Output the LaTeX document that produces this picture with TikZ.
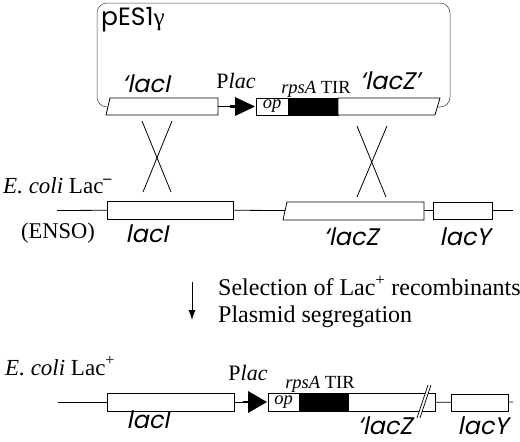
\documentclass[tikz,border=0pt]{standalone}
\usepackage{fontspec}
\setmainfont{Liberation Serif}
\newfontfamily\plasfont{Poppins}
\newfontfamily\genefont[FakeSlant=0.2]{Poppins}
\usetikzlibrary{positioning, arrows.meta}
\tikzset{
    gene/.style={
        draw, fill=white,
        inner sep=0pt, outer sep=0pt,
        line width=0.8pt,
        minimum height=18pt
    },
    tir/.style={gene, fill=black},
    dna/.style={line width=0.8pt},
    plasmid/.style={line width=0.5pt, black!75, rounded corners=10pt},
    cross/.style={line width=0.8pt},
    stem/.style={line width=2.6pt},
    genename/.style={font=\genefont\fontsize{24}{28}\selectfont, anchor=base, inner sep=0pt, text depth=0pt},
    txt/.style={font=\fontsize{22}{26}\selectfont, anchor=base, inner sep=0pt},
    smalltxt/.style={font=\fontsize{18.5}{22}\selectfont, anchor=base, inner sep=0pt},
    steptxt/.style={font=\fontsize{24}{28}\selectfont, anchor=base west, inner sep=0pt},
    line/.style={-{Latex[length=10pt,width=7pt]}, line width=0.8pt}
}

\begin{document}
\begin{tikzpicture}[x=1pt, y=-1pt]
    \useasboundingbox (0,0) rectangle (520,442);

    % Plasmid
    \draw[plasmid] (108,107) -- (97,107) -- (97,3) -- (450,3) -- (450,107) -- (437,107);
    \node[anchor=base west, inner sep=0pt, font=\plasfont\fontsize{25}{29}\selectfont] (pes) at (101,25) {pES1{\rmfamily γ}};

    \coordinate (lacIa) at (218,106.5);
    \coordinate (placA) at (235,106.5);
    \draw[dna, fill=white] (110,98) -- (218,98) -- (218,115) -- (106,115) -- cycle;
    \draw[dna] (lacIa) -- (placA);
    \draw[stem] (230,106.5) -- (placA);
    \fill (placA) -- ++(0,-9.5) -- (255,106.5) -- (235,116) -- cycle;
    \node[gene, minimum width=32pt, minimum height=17pt] (opA) at (272,106.5) {};
    \node[tir, minimum width=50pt, minimum height=17pt, right=0pt of opA] (tirA) {};
    \draw[dna, fill=white] (tirA.north east) -- (440,98) -- (435,115) -- (tirA.south east) -- cycle;
    \node[smalltxt, anchor=center] at (opA) {\textit{op}};

    \node[genename] (lacIlabA) at (146,92) {‘lacI};
    \node[txt] (placlabA) at (236,88) {P\textit{lac}};
    \node[smalltxt] (tirlabA) at (316,93) {\textit{rpsA} TIR};
    \node[genename] (lacZlabA) at (390,89) {‘lacZ’};

    % Crossovers
    \draw[cross] (142,121) -- (171,192);
    \draw[cross] (172,121) -- (143,192);
    \draw[cross] (357,126) -- (386,197);
    \draw[cross] (387,126) -- (357,197);

    % Lac- chromosome
    \coordinate (chrBstart) at (57,210.5);
    \coordinate (chrBend) at (513,210.5);
    \coordinate (lacZBw) at (285,210.5);
    \node[gene, minimum width=126pt] (lacIB) at (170,210) {};
    \node[gene, minimum width=59pt, minimum height=17pt] (lacYB) at (462.5,210.5) {};
    \draw[dna] (chrBstart) -- (lacIB);
    \draw[dna] (lacIB) -- (lacZBw);
    \draw[dna] (424,210.5) -- (lacYB);
    \draw[dna] (lacYB) -- (chrBend);
    \draw[dna, fill=white] (287,202) -- (424,202) -- (424,220) -- (283,220) -- cycle;

    \node[txt, anchor=base west, font=\fontsize{23}{27}\selectfont] (ecoliB) at (3,193) {\textit{E. coli} Lac\textsuperscript{\textbf{--}}};
    \node[txt, anchor=base west, font=\fontsize{22.5}{27}\selectfont] (ensoB) at (21,238) {(ENSO)};
    \node[genename] (lacIlabB) at (147,242) {lacI};
    \node[genename] (lacZlabB) at (351,245) {‘lacZ};
    \node[genename] (lacYlabB) at (465,245) {lacY};

    % Selection step
    \coordinate (arrtop) at (192,282);
    \coordinate (arrbot) at (192,320);
    \draw[line] (arrtop) -- (arrbot);
    \node[steptxt] (sel) at (218,295) {Selection of Lac\textsuperscript{+} recombinants};
    \node[steptxt] (seg) at (218,322) {Plasmid segregation};

    % Lac+ chromosome
    \coordinate (chrCstart) at (58,402);
    \coordinate (chrCend) at (513,402);
    \coordinate (placC) at (248,402);
    \node[gene, minimum width=127pt] (lacIC) at (170.5,402) {};
    \node[gene, minimum width=31pt] (opC) at (283.5,402) {};
    \node[tir, minimum width=49pt, right=0pt of opC] (tirC) {};
    \node[gene, minimum width=87pt, right=0pt of tirC] (lacZC) {};
    \node[gene, minimum width=57pt, minimum height=17pt] (lacYC) at (479.5,402.5) {};
    \draw[dna] (chrCstart) -- (lacIC);
    \draw[dna] (lacIC) -- (placC);
    \draw[stem] (243,402) -- (placC);
    \fill (placC) -- ++(0,-11) -- (267,402) -- (248,413) -- cycle;
    \draw[dna] (lacZC) -- (lacYC);
    \draw[dna] (lacYC) -- (chrCend);
    \fill[white] (428,385) -- (431,385) -- (420,418) -- (417,418) -- cycle;
    \draw[line width=0.7pt] (428,385) -- (417,418) (431,385) -- (420,418);
    \node[smalltxt, anchor=center] at (opC) {\textit{op}};

    \node[txt, anchor=base west, font=\fontsize{23}{27}\selectfont] (ecoliC) at (5,375) {\textit{E. coli} Lac\textsuperscript{+}};
    \node[txt] (placlabC) at (248,380) {P\textit{lac}};
    \node[smalltxt] (tirlabC) at (320,388) {\textit{rpsA} TIR};
    \node[genename] (lacIlabC) at (148,428) {lacI};
    \node[genename] (lacZlabC) at (385,434) {‘lacZ};
    \node[genename] (lacYlabC) at (483,434) {lacY};
\end{tikzpicture}
\end{document}
